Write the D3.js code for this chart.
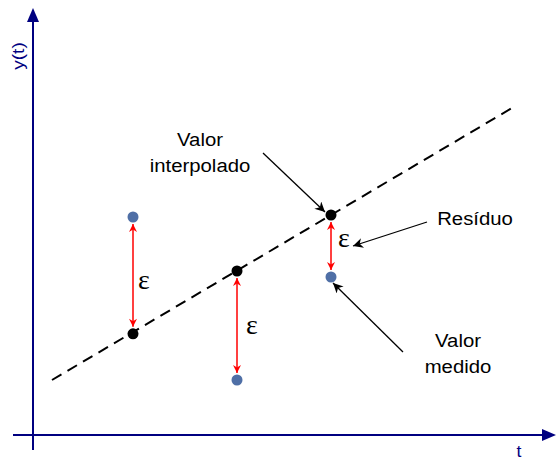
<!DOCTYPE html>
<html>
<head>
<meta charset="utf-8">
<script src="https://cdn.jsdelivr.net/npm/d3@7"></script>
<style>
  body { margin: 0; background: #fff; }
  svg { display: block; }
</style>
</head>
<body>
<svg id="viz" width="556" height="460"></svg>
<script>
// data (arbitrary units, t and y from 0 to 100)
const tPoints = [20, 40.8, 59.6];
const measured = [54.5, 13.75, 39.5];
const interpolated = [25.3, 41, 55];
const lineT = [3.8, 95.8];
const lineY = [13.75, 81.75];
const axisLabels = ["t", "y(t)"];
const notes = [["Valor", "interpolado"], ["Resíduo"], ["Valor", "medido"]];

const svg = d3.select("#viz");
const navy = "#000080";
const blueDot = "#4f6fa6";

const x = d3.scaleLinear().domain([0, 100]).range([33, 533]);
const y = d3.scaleLinear().domain([0, 100]).range([435, 35]);

const defs = svg.append("defs");
const marker = (id, color, w, h) => {
    defs.append("marker")
        .attr("id", id)
        .attr("viewBox", "0 0 10 10")
        .attr("refX", 10).attr("refY", 5)
        .attr("markerUnits", "userSpaceOnUse")
        .attr("markerWidth", w).attr("markerHeight", h)
        .attr("orient", "auto-start-reverse")
        .append("path")
        .attr("d", "M0,0 L10,5 L0,10 L3,5 z")
        .attr("fill", color);
};
marker("redArrow", "red", 9, 8);
marker("blackArrow", "black", 13, 10);

// axes
svg.append("line")
    .attr("x1", x(0)).attr("x2", x(0))
    .attr("y1", 450).attr("y2", 18)
    .attr("stroke", navy).attr("stroke-width", 2);
svg.append("path")
    .attr("d", `M${x(0) - 6},22 L${x(0)},8 L${x(0) + 6},22 z`)
    .attr("fill", navy);
svg.append("line")
    .attr("x1", 13).attr("x2", 546)
    .attr("y1", y(0)).attr("y2", y(0))
    .attr("stroke", navy).attr("stroke-width", 2);
svg.append("path")
    .attr("d", `M542,${y(0) - 6} L556,${y(0)} L542,${y(0) + 6} z`)
    .attr("fill", navy);

svg.append("text")
    .attr("transform", "translate(519,457) scale(1.1,1)")
    .attr("font-family", "Liberation Sans, Arial, sans-serif")
    .attr("font-size", 16)
    .attr("fill", navy)
    .attr("text-anchor", "middle")
    .text(axisLabels[0]);
svg.append("text")
    .attr("transform", "translate(24,56) rotate(-90) scale(1.12,1)")
    .attr("font-family", "Liberation Sans, Arial, sans-serif")
    .attr("font-size", 17)
    .attr("fill", navy)
    .attr("text-anchor", "middle")
    .text(axisLabels[1]);

// dashed interpolation line
svg.append("line")
    .attr("x1", x(lineT[0])).attr("y1", y(lineY[0]))
    .attr("x2", x(lineT[1])).attr("y2", y(lineY[1]))
    .attr("stroke", "black").attr("stroke-width", 2)
    .attr("stroke-dasharray", "11,7");

// residual arrows
const gap = 7;
svg.append("g").selectAll("line")
    .data(tPoints)
    .join("line")
    .attr("x1", d => x(d)).attr("x2", d => x(d))
    .attr("y1", (d, i) => {
        const a = y(measured[i]), b = y(interpolated[i]);
        return a < b ? a + gap : a - gap;
    })
    .attr("y2", (d, i) => {
        const a = y(measured[i]), b = y(interpolated[i]);
        return a < b ? b - gap : b + gap;
    })
    .attr("stroke", "red").attr("stroke-width", 1.5)
    .attr("marker-start", "url(#redArrow)")
    .attr("marker-end", "url(#redArrow)");

// epsilon labels
const epsOffset = [[11, 14], [15, 8], [13, 1]];
svg.append("g").selectAll("text")
    .data(tPoints)
    .join("text")
    .attr("x", (d, i) => x(d) + epsOffset[i][0])
    .attr("y", (d, i) => (y(measured[i]) + y(interpolated[i])) / 2 + epsOffset[i][1])
    .attr("font-family", "Liberation Serif, Times New Roman, serif")
    .attr("font-size", 28)
    .attr("text-anchor", "middle")
    .text("ε");

// points
svg.append("g").selectAll("circle")
    .data(tPoints)
    .join("circle")
    .attr("cx", d => x(d)).attr("cy", (d, i) => y(interpolated[i]))
    .attr("r", 5.5).attr("fill", "black");
svg.append("g").selectAll("circle")
    .data(tPoints)
    .join("circle")
    .attr("cx", d => x(d)).attr("cy", (d, i) => y(measured[i]))
    .attr("r", 5.5).attr("fill", blueDot);

// annotations
const annot = [
    {lines: notes[0], tx: 200, ty: 146, from: [263, 153], to: [x(tPoints[2]) - 6, y(interpolated[2]) - 3]},
    {lines: notes[1], tx: 475, ty: 225, from: [427, 222], to: [353, 246]},
    {lines: notes[2], tx: 458, ty: 347, from: [403, 352], to: [x(tPoints[2]) + 2, y(measured[2]) + 6]}
];
annot.forEach(a => {
    svg.append("line")
        .attr("x1", a.from[0]).attr("y1", a.from[1])
        .attr("x2", a.to[0]).attr("y2", a.to[1])
        .attr("stroke", "black").attr("stroke-width", 1.3)
        .attr("marker-end", "url(#blackArrow)");
    const t = svg.append("text")
        .attr("transform", `translate(${a.tx},${a.ty}) scale(1.13,1)`)
        .attr("font-family", "Liberation Sans, Arial, sans-serif")
        .attr("font-size", 18)
        .attr("text-anchor", "middle");
    a.lines.forEach((l, i) => {
        t.append("tspan").attr("x", 0).attr("dy", i === 0 ? 0 : 26).text(l);
    });
});
</script>
</body>
</html>
